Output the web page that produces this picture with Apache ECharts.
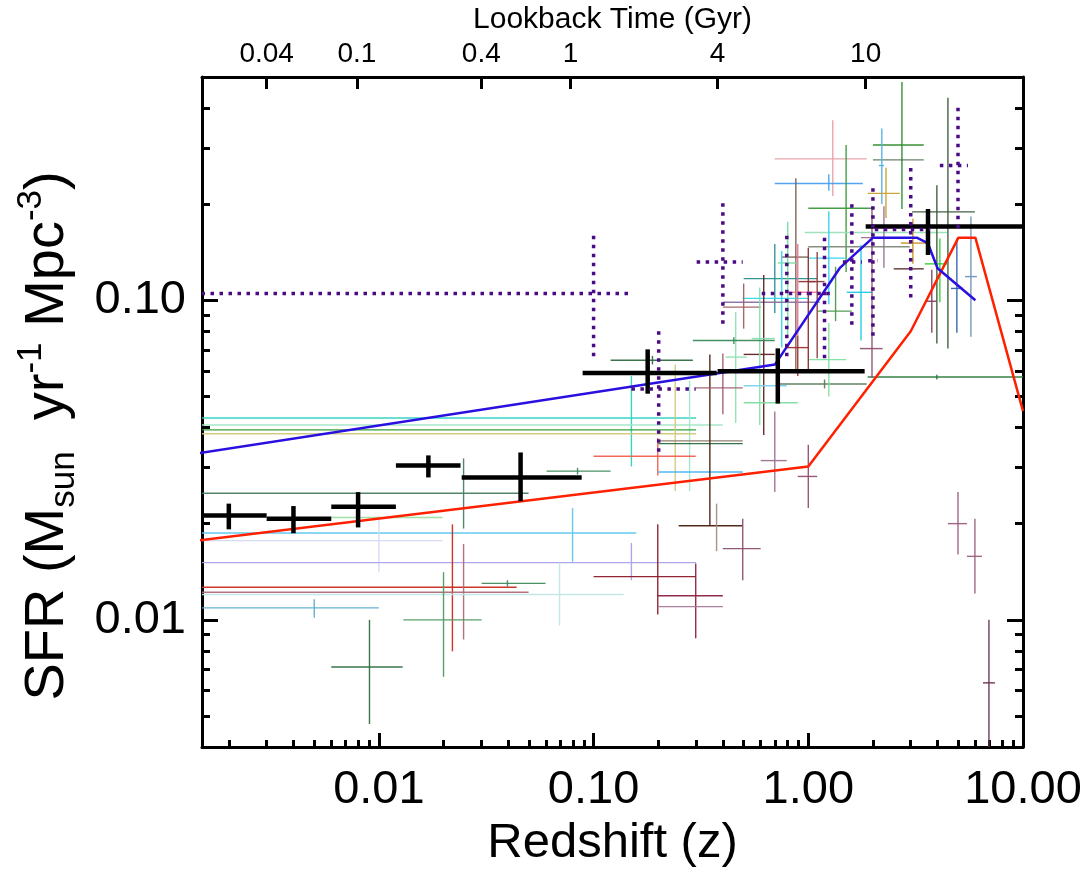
<!DOCTYPE html>
<html>
<head>
<meta charset="utf-8">
<title>SFR vs redshift</title>
<script src="https://cdn.jsdelivr.net/npm/echarts@6.0.0/dist/echarts.min.js"></script>
<style>
  html, body { margin: 0; padding: 0; background: #fff; }
  #chart { width: 1090px; height: 873px; }
</style>
</head>
<body>
<div id="chart"></div>
<script>
// axis ticks
const xMajor = [0.01, 0.1, 1, 10];
const xMinor = [0.002, 0.003, 0.004, 0.005, 0.006, 0.007, 0.008, 0.009,
  0.02, 0.03, 0.04, 0.05, 0.06, 0.07, 0.08, 0.09,
  0.2, 0.3, 0.4, 0.5, 0.6, 0.7, 0.8, 0.9,
  2, 3, 4, 5, 6, 7, 8, 9];
const yMajor = [0.01, 0.1];
const yMinor = [0.005, 0.006, 0.007, 0.008, 0.009,
  0.02, 0.03, 0.04, 0.05, 0.06, 0.07, 0.08, 0.09,
  0.2, 0.3, 0.4];
// top axis: lookback time (Gyr) and the redshift where it falls
const lookbackLabels = ['0.04', '0.1', '0.4', '1', '4', '10'];
const lookbackZ = [0.0030, 0.0079, 0.030, 0.078, 0.378, 1.85];

// model curves
const blueZ = [0.001, 0.7, 1.4, 2.0, 3.2, 3.6, 4.0, 6.0];
const blueSfr = [0.032, 0.063, 0.126, 0.157, 0.157, 0.151, 0.126, 0.100];
const redZ = [0.001, 1, 3, 5, 6, 10];
const redSfr = [0.0172, 0.0302, 0.08, 0.157, 0.157, 0.045];

// error bars: [z, zLo, zHi, sfr, sfrLo, sfrHi]
const blackPts = [
  [0.002, 0.0008, 0.003, 0.0212, 0.0192, 0.0231],
  [0.004, 0.003, 0.006, 0.0207, 0.01866, 0.0227],
  [0.008, 0.006, 0.012, 0.0226, 0.01946, 0.0251],
  [0.017, 0.012, 0.024, 0.0304, 0.0279, 0.0327],
  [0.0457, 0.0243, 0.088, 0.0279, 0.0235, 0.0334],
  [0.1786, 0.0889, 0.3745, 0.0592, 0.0510, 0.0702],
  [0.721, 0.378, 1.83, 0.060, 0.0475, 0.0707],
  [3.61, 1.85, 12, 0.170, 0.1386, 0.193]
];
const dottedPts = [
  [0.1, 0.0001, 0.149, 0.105, 0.0668, 0.165],
  [0.201, 0.150, 0.299, 0.0528, 0.0336, 0.0832],
  [0.40, 0.302, 0.495, 0.1318, 0.0844, 0.2075],
  [0.794, 0.607, 1.0, 0.105, 0.0668, 0.165],
  [1.19, 1.0, 1.33, 0.105, 0.0658, 0.160],
  [1.595, 1.449, 1.776, 0.1318, 0.0838, 0.2075],
  [2.0, 1.9, 2.1, 0.133, 0.0775, 0.232],
  [3.0, 2.04, 3.68, 0.1665, 0.102, 0.262],
  [4.98, 4.1, 5.54, 0.264, 0.168, 0.415]
];
const litPts = [
  [0.15, 0.0001, 0.30, 0.0428, 0.0302, 0.0579],
  [0.28, 0.0001, 0.40, 0.0407, 0.0253, 0.056],
  [0.15, 0.0001, 0.30, 0.0393, 0.0393, 0.0393],
  [0.24, 0.0001, 0.30, 0.0382, 0.0253, 0.063],
  [0.0248, 0.0001, 0.0498, 0.0249, 0.0193, 0.032],
  [0.008, 0.006, 0.0198, 0.0209, 0.0209, 0.0209],
  [0.0798, 0.0001, 0.158, 0.0187, 0.0152, 0.0224],
  [0.01, 0.0001, 0.0198, 0.0177, 0.0141, 0.0212],
  [0.15, 0.0001, 0.30, 0.0151, 0.0133, 0.0174],
  [0.022, 0.0001, 0.0438, 0.01264, 0.00797, 0.0199],
  [0.0248, 0.0001, 0.0498, 0.0122, 0.00868, 0.01726],
  [0.0694, 0.0001, 0.138, 0.012, 0.0096, 0.0151],
  [0.005, 0.0001, 0.01, 0.0109, 0.01015, 0.0116],
  [0.00904, 0.006, 0.0129, 0.00712, 0.00472, 0.01],
  [0.02, 0.013, 0.0301, 0.01, 0.00663, 0.0141],
  [0.0397, 0.0301, 0.0597, 0.013, 0.0127, 0.0133],
  [0.0842, 0.0604, 0.12, 0.0292, 0.0285, 0.0299],
  [0.199, 0.10, 0.299, 0.0325, 0.0283, 0.0371],
  [0.188, 0.12, 0.29, 0.0649, 0.063, 0.067],
  [0.30, 0.20, 0.495, 0.029, 0.029, 0.029],
  [0.30, 0.20, 0.495, 0.0363, 0.0363, 0.0363],
  [0.30, 0.20, 0.495, 0.0356, 0.0356, 0.0356],
  [0.348, 0.249, 0.495, 0.0197, 0.0197, 0.0677],
  [0.374, 0.374, 0.374, 0.0197, 0.0164, 0.0231],
  [0.495, 0.40, 0.60, 0.0167, 0.0133, 0.0207],
  [0.199, 0.10, 0.299, 0.01365, 0.0104, 0.0199],
  [0.299, 0.199, 0.40, 0.0119, 0.00875, 0.015],
  [0.299, 0.199, 0.40, 0.011, 0.011, 0.011],
  [1.30, 0.698, 1.87, 0.277, 0.212, 0.366],
  [1.246, 0.698, 1.795, 0.232, 0.220, 0.248],
  [0.875, 0.752, 1.0, 0.1365, 0.0596, 0.241],
  [1.50, 1.0, 1.98, 0.194, 0.1227, 0.306],
  [2.0, 0.963, 4.43, 0.163, 0.163, 0.163],
  [1.6, 1.0, 2.97, 0.147, 0.147, 0.147],
  [1.246, 1.0, 1.48, 0.1355, 0.0972, 0.190],
  [0.698, 0.5, 1.10, 0.1169, 0.0912, 0.150],
  [0.752, 0.495, 1.0, 0.1014, 0.0711, 0.1425],
  [0.8, 0.40, 1.13, 0.0986, 0.0986, 0.0986],
  [0.5, 0.40, 0.60, 0.0952, 0.0815, 0.1128],
  [0.62, 0.5, 0.698, 0.0677, 0.0379, 0.120],
  [0.594, 0.545, 0.698, 0.0759, 0.0407, 0.1096],
  [0.459, 0.412, 0.517, 0.0664, 0.0413, 0.0918],
  [0.45, 0.29, 0.698, 0.0748, 0.073, 0.0766],
  [0.40, 0.299, 0.495, 0.0532, 0.044, 0.0682],
  [0.6, 0.5, 0.794, 0.054, 0.054, 0.054],
  [0.698, 0.60, 0.794, 0.0315, 0.0251, 0.0449],
  [1.0, 0.893, 1.10, 0.0281, 0.0224, 0.0353],
  [0.893, 0.794, 1.0, 0.0711, 0.0579, 0.0775],
  [1.19, 0.736, 1.87, 0.0547, 0.053, 0.0565],
  [1.246, 1.0, 1.50, 0.0652, 0.050, 0.0849],
  [3.97, 1.89, 15, 0.0575, 0.0565, 0.0585],
  [4.98, 4.47, 5.48, 0.020, 0.016, 0.0251],
  [5.97, 5.48, 6.44, 0.0158, 0.0121, 0.0207],
  [6.94, 6.51, 7.41, 0.00635, 0.002, 0.01],
  [2.73, 2.0, 3.45, 0.306, 0.193, 0.482],
  [2.73, 2.0, 3.45, 0.275, 0.273, 0.277],
  [2.2, 2.13, 2.25, 0.264, 0.200, 0.345],
  [2.30, 1.89, 2.67, 0.216, 0.181, 0.260],
  [2.25, 1.76, 2.6, 0.157, 0.1264, 0.197],
  [3.0, 2.50, 3.45, 0.1254, 0.1254, 0.1254],
  [3.97, 3.04, 5.97, 0.189, 0.0732, 0.229],
  [4.47, 4.47, 4.47, 0.16, 0.0706, 0.43],
  [3.07, 2.70, 3.53, 0.151, 0.130, 0.180],
  [4.10, 3.49, 4.43, 0.130, 0.0986, 0.156],
  [4.92, 4.62, 5.25, 0.1089, 0.0791, 0.156],
  [5.72, 5.37, 6.1, 0.1186, 0.0769, 0.183],
  [1.76, 1.51, 1.98, 0.1059, 0.0748, 0.149],
  [1.34, 1.107, 1.595, 0.0925, 0.0861, 0.1273],
  [1.0, 0.9, 1.08, 0.1144, 0.06, 0.146],
  [0.893, 0.794, 1.10, 0.1059, 0.0775, 0.150],
  [0.802, 0.721, 0.884, 0.1308, 0.0775, 0.176],
  [3.76, 3.53, 3.97, 0.0993, 0.0791, 0.1245],
  [1.98, 1.74, 2.22, 0.0706, 0.0571, 0.197],
  [1.10, 1.0, 1.19, 0.1144, 0.0658, 0.1415],
  [0.65, 0.50, 0.893, 0.0478, 0.0478, 0.0478]
];
const litColors = [
  '#2cd2c2', '#a2e6c6', '#2a9a2a', '#d3c77a', '#4a8060', '#9ddf9d', '#5cc6ee', '#d4daf6',
  '#aaa2ee', '#c82a20', '#b06a7a', '#c2e6e6', '#5aaed0', '#2f6f3f', '#4f9a62', '#3f8a5a',
  '#3f8a5a', '#f06050', '#2d6b3f', '#44b4f0', '#8a7a68', '#2d6b3f', '#4a2010', '#a09080',
  '#8a5070', '#8b1a2a', '#8b2040', '#a87898', '#e8a0a8', '#4aa0f0', '#7a6050', '#3a9a3a',
  '#98e0b8', '#808878', '#30d0f0', '#2a9090', '#30d8f0', '#8a70a0', '#a06060', '#602020',
  '#80e0b0', '#90e0b0', '#3a8a5a', '#a06070', '#80d0f0', '#a07090', '#905070', '#a03030',
  '#5a7a5a', '#80e0a0', '#2a7a3a', '#9a6080', '#9a6080', '#6a3050', '#2a8a2a', '#5f7a60',
  '#50b0e8', '#c8a030', '#9a7090', '#5a2a2a', '#3a5a3a', '#3a5a3a', '#c89020', '#30d030',
  '#3060b0', '#7090b8', '#20c8e8', '#4a9a4a', '#8b3030', '#f07090', '#70e0a0', '#804060',
  '#905070', '#8b3a3a', '#7fdca0'
];

const FONT = 'Liberation Sans';

// draws one cross per row through the axis scales
function crossRenderer(getStyle) {
  return function (params, api) {
    const z = api.value(0), s = api.value(3);
    const l = api.coord([api.value(1), s]);
    const r = api.coord([api.value(2), s]);
    const b = api.coord([z, api.value(4)]);
    const t = api.coord([z, api.value(5)]);
    const style = getStyle(params.dataIndex);
    return {
      type: 'group',
      children: [
        { type: 'line', shape: { x1: l[0], y1: l[1], x2: r[0], y2: r[1] }, style: style },
        { type: 'line', shape: { x1: b[0], y1: b[1], x2: t[0], y2: t[1] }, style: style }
      ]
    };
  };
}

const chart = echarts.init(document.getElementById('chart'));

const xBase = { type: 'log', min: 0.0015, max: 10, splitLine: { show: false } };
const yBase = { type: 'log', min: 0.004, max: 0.5, splitLine: { show: false } };
const blackLine = { color: '#000', width: 3 };

chart.setOption({
  animation: false,
  grid: { left: 202, right: 67, top: 68, bottom: 126 },
  xAxis: [
    Object.assign({}, xBase, {
      position: 'bottom',
      axisLine: { lineStyle: blackLine },
      axisTick: { inside: true, length: 14, lineStyle: blackLine, customValues: xMajor },
      axisLabel: {
        customValues: xMajor, margin: 20, fontSize: 47, fontFamily: FONT, color: '#000',
        formatter: v => v.toFixed(2)
      },
      name: 'Redshift (z)', nameLocation: 'middle', nameGap: 70,
      nameTextStyle: { fontSize: 49, fontFamily: FONT, color: '#000' }
    }),
    Object.assign({}, xBase, {
      position: 'bottom',
      axisLine: { show: false },
      axisTick: { inside: true, length: 7, lineStyle: blackLine, customValues: xMinor },
      axisLabel: { show: false }
    }),
    Object.assign({}, xBase, {
      position: 'top',
      axisLine: { lineStyle: blackLine },
      axisTick: { inside: true, length: 12, lineStyle: blackLine, customValues: lookbackZ },
      axisLabel: {
        customValues: lookbackZ, margin: 9, fontSize: 28, fontFamily: FONT, color: '#000',
        formatter: function (v) {
          let best = 0;
          lookbackZ.forEach((z, i) => {
            if (Math.abs(Math.log(z / v)) < Math.abs(Math.log(lookbackZ[best] / v))) best = i;
          });
          return lookbackLabels[best];
        }
      },
      name: 'Lookback Time (Gyr)', nameLocation: 'middle', nameGap: 25,
      nameTextStyle: { fontSize: 30, fontFamily: FONT, color: '#000' }
    })
  ],
  yAxis: [
    Object.assign({}, yBase, {
      position: 'left',
      axisLine: { lineStyle: blackLine },
      axisTick: { inside: true, length: 16, lineStyle: blackLine, customValues: yMajor },
      axisLabel: {
        customValues: yMajor, margin: 16, fontSize: 47, fontFamily: FONT, color: '#000',
        formatter: v => v.toFixed(2)
      },
      name: '{n|SFR (M}{sub|sun}{n|  yr}{sup|-1}{n| Mpc}{sup|-3}{n|)}',
      nameLocation: 'middle', nameRotate: 90, nameGap: 112,
      nameTextStyle: {
        fontFamily: FONT, color: '#000', padding: [0, 48, 0, 0],
        rich: {
          n: { fontSize: 56, fontFamily: FONT, color: '#000', lineHeight: 72, verticalAlign: 'middle' },
          sub: { fontSize: 35, fontFamily: FONT, color: '#000', lineHeight: 72, verticalAlign: 'bottom', padding: [0, 0, 2, 0] },
          sup: { fontSize: 35, fontFamily: FONT, color: '#000', lineHeight: 72, verticalAlign: 'top', padding: [2, 0, 0, 0] }
        }
      }
    }),
    Object.assign({}, yBase, {
      position: 'left',
      axisLine: { show: false },
      axisTick: { inside: true, length: 8, lineStyle: blackLine, customValues: yMinor },
      axisLabel: { show: false }
    }),
    Object.assign({}, yBase, {
      position: 'right',
      axisLine: { lineStyle: blackLine },
      axisTick: { inside: true, length: 16, lineStyle: blackLine, customValues: yMajor },
      axisLabel: { show: false }
    }),
    Object.assign({}, yBase, {
      position: 'right',
      axisLine: { show: false },
      axisTick: { inside: true, length: 8, lineStyle: blackLine, customValues: yMinor },
      axisLabel: { show: false }
    })
  ],
  series: [
    {
      type: 'custom', name: 'literature', clip: true, z: 2,
      data: litPts,
      renderItem: crossRenderer(i => ({ stroke: litColors[i], lineWidth: 1.4, opacity: 0.95 }))
    },
    {
      type: 'line', name: 'red model', z: 3, showSymbol: false, clip: true,
      data: redZ.map((z, i) => [z, redSfr[i]]),
      lineStyle: { color: '#ff2000', width: 2.5 }
    },
    {
      type: 'line', name: 'blue model', z: 3, showSymbol: false, clip: true,
      data: blueZ.map((z, i) => [z, blueSfr[i]]),
      lineStyle: { color: '#2a10e0', width: 2.5 }
    },
    {
      type: 'custom', name: 'this work', clip: true, z: 4,
      data: blackPts,
      renderItem: crossRenderer(() => ({ stroke: '#000', lineWidth: 4.5 }))
    },
    {
      type: 'custom', name: 'dotted', clip: true, z: 5,
      data: dottedPts,
      renderItem: crossRenderer(() => ({ stroke: '#4b0a86', lineWidth: 3.5, lineDash: [3.5, 5.5] }))
    }
  ]
});
</script>
</body>
</html>
